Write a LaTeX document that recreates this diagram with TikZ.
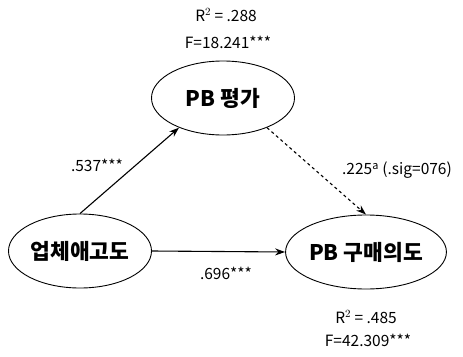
\documentclass[tikz,border=0pt]{standalone}
\usepackage{fontspec}
\setmainfont{Noto Sans CJK KR}
\usetikzlibrary{shapes.geometric,arrows.meta}
\begin{document}
\begin{tikzpicture}[x=1pt,y=-1pt,
  var/.style={ellipse,draw,line width=0.9pt,minimum width=143pt,minimum height=74pt,
    inner sep=0pt,font=\fontsize{21.5}{21.5}\selectfont\bfseries},
  stat/.style={font=\fontsize{15.5}{15.5}\selectfont,inner sep=0pt},
  effect/.style={line width=1.1pt,-{Stealth[length=10pt,width=7pt]}}]
\useasboundingbox (0,0) rectangle (463,356);

% latent variables
\node[var] (eval) at (223,98) {PB 평가};
\node[var] (firm) at (80,251) {업체애고도};
\node[var] (intent) at (366,252) {PB 구매의도};

% fit statistics
\node[stat] (r2a) at (226,15) {R$^2$ = .288};
\node[stat] (fa) at (228,42) {F=18.241***};
\node[stat] (r2b) at (366,317) {R$^2$ = .485};
\node[stat] (fb) at (368,340) {F=42.309***};

% paths
\draw[effect] (firm.north) -- (eval.-146);
\draw[effect, dashed] (eval.-34) -- (intent.north);
\draw[effect] (firm.east) -- (intent.west);

% path coefficients
\node[stat] (c1) at (97,165) {.537***};
\node[stat] (c2) at (397,170) {.225\textsuperscript{a} (.sig=076)};
\node[stat] (c3) at (226,273) {.696***};
\end{tikzpicture}
\end{document}
